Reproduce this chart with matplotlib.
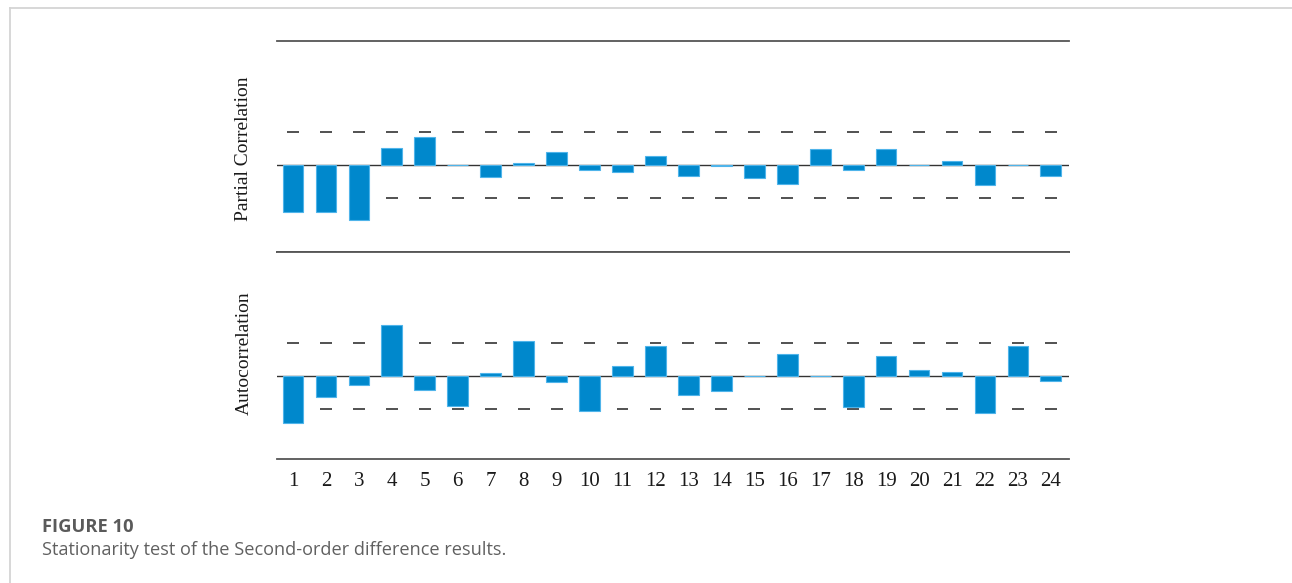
import matplotlib.pyplot as plt
from matplotlib.lines import Line2D

# lags and correlation values (in units of the confidence bound)
lags = list(range(1, 25))
pacf_vals = [-1.43, -1.43, -1.67, 0.52, 0.85, 0.0, -0.37, 0.05, 0.40, -0.16,
             -0.20, 0.28, -0.34, -0.03, -0.41, -0.57, 0.47, -0.14, 0.47, 0.0,
             0.13, -0.61, 0.0, -0.34]
acf_vals = [-1.43, -0.65, -0.26, 1.55, -0.43, -0.92, 0.10, 1.07, -0.17, -1.05,
            0.31, 0.92, -0.59, -0.47, 0.0, 0.67, 0.0, -0.95, 0.59, 0.19,
            0.13, -1.11, 0.92, -0.16]
conf = 1.0

bar_color = '#0088cc'
edge_color = '#4fb4ea'
serif = ['Liberation Serif', 'DejaVu Serif']

W, H = 1292, 583
fig = plt.figure(figsize=(W / 100, H / 100), dpi=100)

# light card border: top and left edges only
bx, by = 10 / W, 1 - 7.5 / H
fig.lines.append(Line2D([bx, 1.0], [by, by], transform=fig.transFigure,
                        color='#d4d4d4', linewidth=1.3))
fig.lines.append(Line2D([bx, bx], [0.0, by], transform=fig.transFigure,
                        color='#d4d4d4', linewidth=1.3))

left, width = 277 / W, 792 / W
ax1 = fig.add_axes([left, 1 - 252 / H, width, 211 / H])
ax2 = fig.add_axes([left, 1 - 459 / H, width, 207 / H])


def draw_panel(ax, vals, ylim):
    for x in lags:
        ax.hlines([conf, -conf], x - 0.18, x + 0.18, color='#333333',
                  linewidth=1.2, zorder=1)
    ax.axhline(0, color='#333333', linewidth=1.0, zorder=2)
    ax.bar(lags, vals, width=0.63, color=bar_color, edgecolor=edge_color,
           linewidth=0.8, zorder=3)
    ax.set_xlim(0.515, 24.55)
    ax.set_ylim(*ylim)
    for s in ['left', 'right']:
        ax.spines[s].set_visible(False)
    for s in ['top', 'bottom']:
        ax.spines[s].set_color('#555555')
        ax.spines[s].set_linewidth(1.3)
    ax.set_yticks([])
    ax.set_xticks(lags)
    ax.tick_params(axis='x', length=0, pad=9)


draw_panel(ax1, pacf_vals, (-2.64, 3.76))
draw_panel(ax2, acf_vals, (-2.52, 3.76))
ax1.set_xticklabels([])
ax2.set_xticklabels([str(x) for x in lags], fontsize=15, family=serif,
                    color='#1a1a1a')

fig.text(244 / W, 1 - 149 / H, 'Partial Correlation', rotation=90,
         ha='center', va='center', fontsize=14, family=serif, color='#1a1a1a')
fig.text(244 / W, 1 - 353 / H, 'Autocorrelation', rotation=90,
         ha='center', va='center', fontsize=14, family=serif, color='#1a1a1a')

# caption
fig.text(42 / W, 1 - 532 / H, 'FIGURE 10', ha='left', va='baseline',
         fontsize=13.2, fontweight='bold', family='Open Sans', color='#5a5a5a')
fig.text(42 / W, 1 - 555 / H,
         'Stationarity test of the Second-order difference results.',
         ha='left', va='baseline', fontsize=13.1, family='Open Sans',
         color='#606060')

fig.savefig('out.png', dpi=100)
